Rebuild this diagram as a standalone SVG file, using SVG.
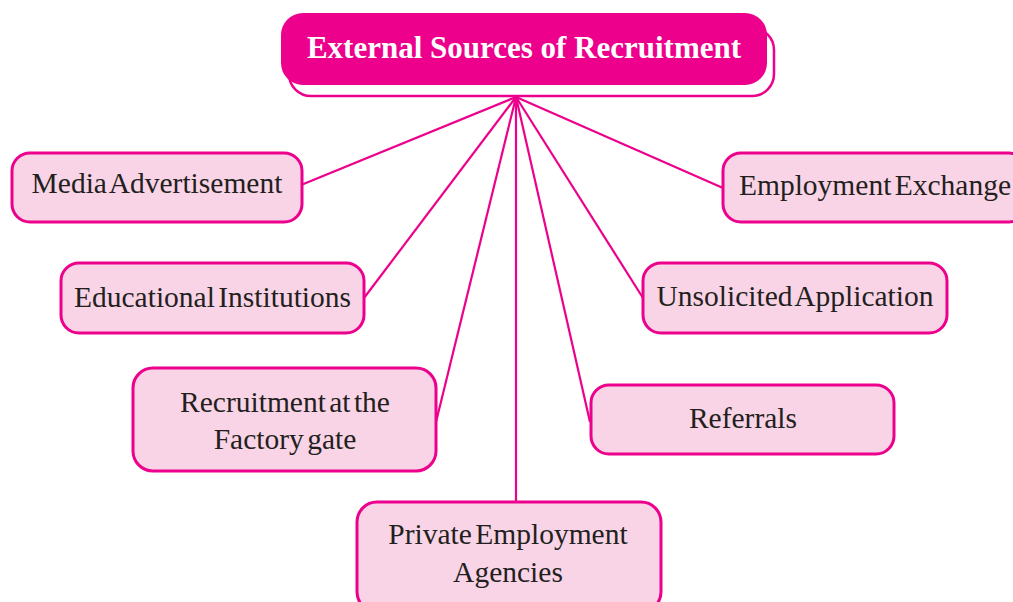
<svg xmlns="http://www.w3.org/2000/svg" width="1013" height="602" viewBox="0 0 1013 602">
<style>
.box{fill:#F9D4E6;stroke:#EC008C;stroke-width:3}
.lbl{font-family:"Liberation Serif","Times New Roman",serif;font-size:29.5px;fill:#231F20;text-anchor:middle;word-spacing:-4px}
.ttl{font-family:"Liberation Serif","Times New Roman",serif;font-size:31px;font-weight:bold;fill:#FFFFFF;text-anchor:middle}
.conn{stroke:#EC008C;stroke-width:2.2;fill:none}
</style>
<rect width="1013" height="602" fill="#FFFFFF"/>
<g id="connectors">
<line class="conn" x1="516" y1="97" x2="301" y2="185"/>
<line class="conn" x1="516" y1="97" x2="364" y2="298"/>
<line class="conn" x1="516" y1="97" x2="436" y2="422"/>
<line class="conn" x1="516" y1="97" x2="516" y2="502"/>
<line class="conn" x1="516" y1="97" x2="590" y2="422"/>
<line class="conn" x1="516" y1="97" x2="643" y2="298"/>
<line class="conn" x1="516" y1="97" x2="723" y2="188"/>
</g>
<g id="title">
<rect x="289" y="28" width="485" height="68" rx="22" fill="#FFFFFF" stroke="#EC008C" stroke-width="2.5"/>
<rect x="281" y="13" width="486" height="72" rx="22" fill="#EC008C"/>
<text class="ttl" x="524" y="58">External Sources of Recruitment</text>
</g>
<g id="media">
<rect class="box" x="12" y="153" width="290" height="69" rx="18"/>
<text class="lbl" x="157" y="193">Media Advertisement</text>
</g>
<g id="educational">
<rect class="box" x="61" y="263" width="303" height="70" rx="18"/>
<text class="lbl" x="212.5" y="307">Educational Institutions</text>
</g>
<g id="factory">
<rect class="box" x="133" y="368" width="303" height="103" rx="20"/>
<text class="lbl" x="285" y="412">Recruitment at the</text>
<text class="lbl" x="285" y="449">Factory gate</text>
</g>
<g id="private">
<rect class="box" x="357" y="502" width="304" height="110" rx="20"/>
<text class="lbl" x="508" y="544">Private Employment</text>
<text class="lbl" x="508" y="582">Agencies</text>
</g>
<g id="referrals">
<rect class="box" x="591" y="385" width="303" height="69" rx="18"/>
<text class="lbl" x="743" y="428">Referrals</text>
</g>
<g id="unsolicited">
<rect class="box" x="643" y="263" width="304" height="70" rx="18"/>
<text class="lbl" x="795" y="306">Unsolicited Application</text>
</g>
<g id="exchange">
<rect class="box" x="723" y="153" width="304" height="69" rx="18"/>
<text class="lbl" x="875" y="195">Employment Exchange</text>
</g>
</svg>
